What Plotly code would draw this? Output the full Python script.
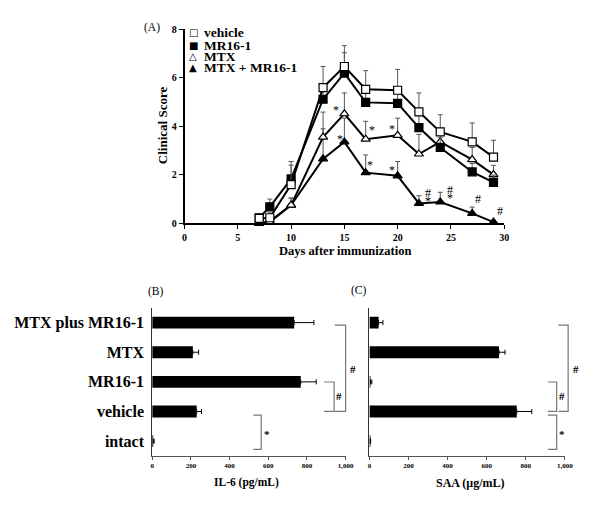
import plotly.graph_objects as go

W, H = 600, 514
def px(x): return x / W
def py(y): return 1 - y / H

FONT = "Liberation Serif"

# ---------------- Panel A data ----------------
days = [7, 8, 10, 13, 15, 17, 20, 22, 24, 27, 29]
vehicle = [0.2, 0.23, 1.6, 5.6, 6.47, 5.53, 5.49, 4.6, 3.77, 3.36, 2.73]
vehicle_err = [0.15, 0.2, 0.95, 0.87, 0.86, 0.77, 0.86, 0.78, 0.71, 0.78, 0.7]
mr16 = [0.23, 0.68, 1.83, 5.12, 6.2, 4.99, 4.95, 3.95, 3.13, 2.12, 1.69]
mr16_err = [0.12, 0.32, 0.57, 0.4, 0.84, 0.4, 0.4, 0.5, 0.4, 0.35, 0.3]
mtx = [0.0, 0.05, 0.75, 3.56, 4.52, 3.47, 3.63, 2.86, 3.36, 2.63, 2.01]
mtx_err = [0.05, 0.1, 0.29, 1.03, 0.86, 0.74, 0.71, 0.81, 0.5, 0.5, 0.38]
mtx_mr = [0.0, 0.08, 0.75, 2.66, 3.36, 2.09, 1.96, 0.82, 0.88, 0.41, 0.05]
mtx_mr_err = [0.03, 0.05, 0.29, 1.24, 0.98, 0.73, 0.59, 0.32, 0.4, 0.26, 0.05]

series_names = ["vehicle", "MR16-1", "MTX", "MTX + MR16-1"]
legend_glyphs = ["□", "■", "△", "▲"]

sig_x = [14.26, 14.6, 17.6, 17.4, 19.5, 19.5, 22.84, 22.84, 24.9, 24.9, 27.5, 29.6]
sig_y = [4.67, 3.47, 3.87, 2.4, 3.9, 2.21, 1.25, 0.93, 1.38, 1.06, 0.99, 0.5]
sig_t = ["*", "*", "*", "*", "*", "*", "#", "*", "#", "*", "#", "#"]

# ---------------- Panel B / C data ----------------
groups = ["intact", "vehicle", "MR16-1", "MTX", "MTX plus MR16-1"]
il6 = [5, 230, 768, 210, 734]
il6_err = [5, 25, 80, 30, 102]
saa = [3, 754, 5, 663, 47]
saa_err = [3, 77, 7, 31, 22]

fig = go.Figure()

err_style = dict(type="data", symmetric=False, color="#555", thickness=1, width=2.5)

traces = [
    (mtx_mr, mtx_mr_err, "triangle-up", "black"),
    (mtx, mtx_err, "triangle-up", "white"),
    (mr16, mr16_err, "square", "black"),
    (vehicle, vehicle_err, "square", "white"),
]
names = ["MTX + MR16-1", "MTX", "MR16-1", "vehicle"]
for (vals, errs, sym, fill), nm in zip(traces, names):
    fig.add_trace(go.Scatter(
        x=days, y=vals, name=nm, mode="lines+markers", xaxis="x", yaxis="y",
        line=dict(color="black", width=2),
        marker=dict(symbol=sym, size=8, color=fill, line=dict(color="black", width=1.2)),
        error_y=dict(array=errs, arrayminus=[0] * len(errs), **err_style),
        cliponaxis=False, showlegend=False))

bar_err = dict(type="data", symmetric=False, color="black", thickness=1, width=2.5)
fig.add_trace(go.Bar(
    x=il6, y=groups, orientation="h", xaxis="x2", yaxis="y2", width=0.4,
    marker=dict(color="black", line=dict(width=0)),
    error_x=dict(array=il6_err, arrayminus=[0] * len(il6_err), **bar_err),
    showlegend=False))
fig.add_trace(go.Bar(
    x=saa, y=groups, orientation="h", xaxis="x3", yaxis="y3", width=0.4,
    marker=dict(color="black", line=dict(width=0)),
    error_x=dict(array=saa_err, arrayminus=[0] * len(saa_err), **bar_err),
    showlegend=False))

axis_common = dict(showgrid=False, zeroline=False, showline=True, linecolor="black")

fig.update_layout(
    width=W, height=H, margin=dict(l=0, r=0, t=0, b=0),
    paper_bgcolor="white", plot_bgcolor="white",
    font=dict(family=FONT, color="black"),
    xaxis=dict(domain=[px(185), px(510.5)], range=[0, 30], anchor="y",
               tickvals=[0, 5, 10, 15, 20, 25, 30], ticks="outside", ticklen=4,
               tickcolor="black", linewidth=1.5,
               tickfont=dict(family=FONT, size=10, weight="bold"), **axis_common),
    yaxis=dict(domain=[py(222.5), py(24)], range=[0, 8], anchor="x",
               tickvals=[0, 2, 4, 6, 8], ticks="outside", ticklen=4,
               tickcolor="black", linewidth=1.5,
               tickfont=dict(family=FONT, size=10, weight="bold"), **axis_common),
    xaxis2=dict(domain=[px(152), px(349)], range=[0, 1000], anchor="y2",
                tickvals=[0, 200, 400, 600, 800, 1000],
                ticktext=["0", "200", "400", "600", "800", "1,000"],
                ticks="outside", ticklen=3, tickcolor="#555", linewidth=1,
                tickfont=dict(family=FONT, size=7, weight="bold"),
                showgrid=False, zeroline=False, showline=True, linecolor="#555"),
    yaxis2=dict(domain=[py(460.7), py(309)], type="category", categoryorder="array",
                categoryarray=groups, range=[-0.5, 4.5], anchor="x2",
                ticks="", ticklabelstandoff=4, linewidth=1,
                tickfont=dict(family=FONT, size=16, weight="bold"),
                showgrid=False, zeroline=False, showline=True, linecolor="#333"),
    xaxis3=dict(domain=[px(373.3), px(572.3)], range=[0, 1000], anchor="y3",
                tickvals=[0, 200, 400, 600, 800, 1000],
                ticktext=["0", "200", "400", "600", "800", "1,000"],
                ticks="outside", ticklen=3, tickcolor="#555", linewidth=1,
                tickfont=dict(family=FONT, size=7, weight="bold"),
                showgrid=False, zeroline=False, showline=True, linecolor="#555"),
    yaxis3=dict(domain=[py(460.7), py(309)], type="category", categoryorder="array",
                categoryarray=groups, range=[-0.5, 4.5], anchor="x3",
                showticklabels=False, ticks="", linewidth=1,
                showgrid=False, zeroline=False, showline=True, linecolor="#333"),
    bargap=0.6,
)

ann = []
def text(x, y, t, size, bold=True, xanchor="center", angle=0, color="black"):
    ann.append(dict(x=px(x), y=py(y), xref="paper", yref="paper", text=t,
                    showarrow=False, xanchor=xanchor, yanchor="middle", textangle=angle,
                    font=dict(family=FONT, size=size, color=color,
                              weight="bold" if bold else "normal")))

# panel labels
text(152, 22, "(A)", 11.5, bold=False)
text(156, 292, "(B)", 11.5, bold=False)
text(363, 291, "(C)", 11.5, bold=False)
# axis titles
text(162, 122, "Clinical Score", 13, angle=-90)
text(348, 251, "Days after immunization", 12.5)
text(248, 488, "IL-6 (pg/mL)", 11.5)
text(476, 488, "SAA (μg/mL)", 12)

# legend (text glyphs)
leg_y = [27, 40, 51.7, 63.3]
for g, nm, yy in zip(legend_glyphs, series_names, leg_y):
    ann.append(dict(x=px(194), y=py(yy), xref="paper", yref="paper", text=g,
                    showarrow=False, xanchor="center", yanchor="middle",
                    font=dict(family="DejaVu Sans", size=10, color="black")))
    text(203, yy, nm, 13.5, xanchor="left")

# significance marks in panel A
for sx, sy, st in zip(sig_x, sig_y, sig_t):
    ann.append(dict(x=sx, y=sy, xref="x", yref="y", text=st, showarrow=False,
                    xanchor="center", yanchor="middle",
                    font=dict(family=FONT, size=12, color="black")))

# brackets (decorations) in panels B and C
shapes = []
def bracket(xv, y0, y1, xl, label, lx, ly):
    path = f"M {px(xl)},{py(y0)} L {px(xv)},{py(y0)} L {px(xv)},{py(y1)} L {px(xl)},{py(y1)}"
    shapes.append(dict(type="path", path=path, xref="paper", yref="paper",
                       line=dict(color="#777", width=1.2)))
    text(lx, ly, label, 11)

bracket(263, 419, 454, 255, "*", 269, 438)
bracket(337.3, 385, 415, 327, "#", 342.7, 399)
bracket(349, 326.7, 415, 338, "#", 356.7, 372)
bracket(564, 419, 454, 555, "*", 569.3, 438)
bracket(564, 385, 415, 555, "#", 569.3, 399)
bracket(575.7, 326.7, 415, 565.7, "#", 583.3, 372)

fig.update_layout(annotations=ann, shapes=shapes)
fig.write_html("out.html", config={"displayModeBar": False},
               post_script="document.body.style.margin='0px';document.body.style.overflow='hidden';")
